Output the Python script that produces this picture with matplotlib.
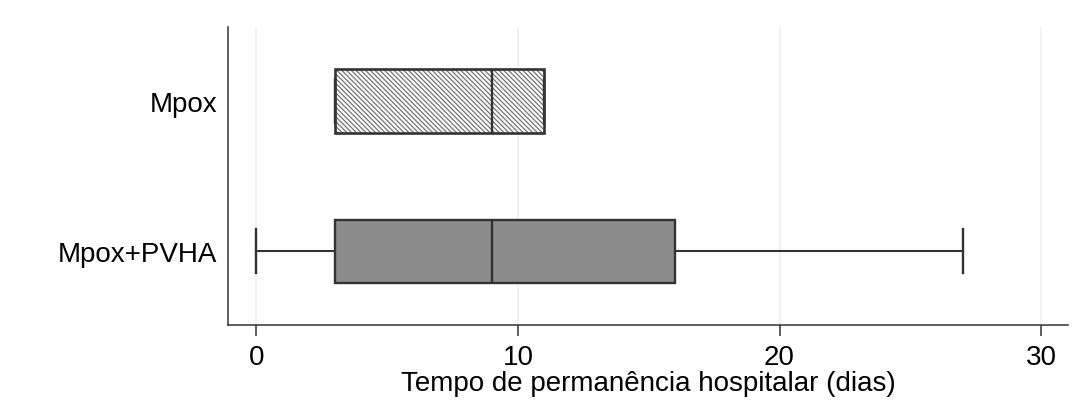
import matplotlib.pyplot as plt
from matplotlib.patches import PathPatch

plt.rcParams['font.family'] = ['Liberation Sans', 'DejaVu Sans']
plt.rcParams['hatch.linewidth'] = 1.0

# five-number summaries (dias)
groups = ['Mpox+PVHA', 'Mpox']
whislo = [0, 3]
q1 = [3, 3]
med = [9, 9]
q3 = [16, 11]
whishi = [27, 11]
fills = ['#8c8c8c', 'white']
hatches = [None, '\\\\\\\\\\\\\\']
xticks = [0, 10, 20, 30]
xlabel = 'Tempo de permanência hospitalar (dias)'

edge = '#333333'

fig = plt.figure(figsize=(10.91, 4.06), dpi=100)
ax = fig.add_axes([0.209, 0.197, 0.770, 0.734])

stats = []
for i, g in enumerate(groups):
    stats.append(dict(label=g, whislo=whislo[i], q1=q1[i], med=med[i],
                      q3=q3[i], whishi=whishi[i], fliers=[]))

bp = ax.bxp(stats, positions=[1, 2], vert=False, widths=0.42, capwidths=0.29,
            patch_artist=True, showfliers=False,
            boxprops=dict(edgecolor=edge, linewidth=1.7),
            medianprops=dict(color=edge, linewidth=1.7),
            whiskerprops=dict(color=edge, linewidth=1.5),
            capprops=dict(color=edge, linewidth=1.7))

for box, fc, h in zip(bp['boxes'], fills, hatches):
    box.set_facecolor(fc)
    if h:
        # hatch takes the edge colour, so draw the dark outline on top
        box.set_hatch(h)
        box.set_edgecolor('#7f7f7f')
        box.set_linewidth(0)
        ax.add_patch(PathPatch(box.get_path(), fill=False, edgecolor=edge,
                               linewidth=1.9, zorder=box.get_zorder() + 0.1))
    box.set_zorder(2)
for m in bp['medians']:
    m.set_zorder(3)

ax.set_xlim(-1.08, 31.03)
ax.set_ylim(0.507, 2.493)
ax.set_xticks(xticks)
ax.set_xticklabels([str(t) for t in xticks])
ax.set_yticks([1, 2])
ax.set_yticklabels(groups)
ax.grid(axis='x', color='#edf2f5', linewidth=1.5, zorder=0)
ax.set_axisbelow(True)

ax.tick_params(axis='x', length=8, width=1.1, color=edge, pad=6,
               labelsize=20)
ax.tick_params(axis='y', length=0, pad=8, labelsize=20)
ax.set_xlabel(xlabel, fontsize=20, labelpad=0)

for s in ['top', 'right']:
    ax.spines[s].set_visible(False)
for s in ['left', 'bottom']:
    ax.spines[s].set_color(edge)
    ax.spines[s].set_linewidth(1.1)

fig.savefig('out.png', dpi=100)
